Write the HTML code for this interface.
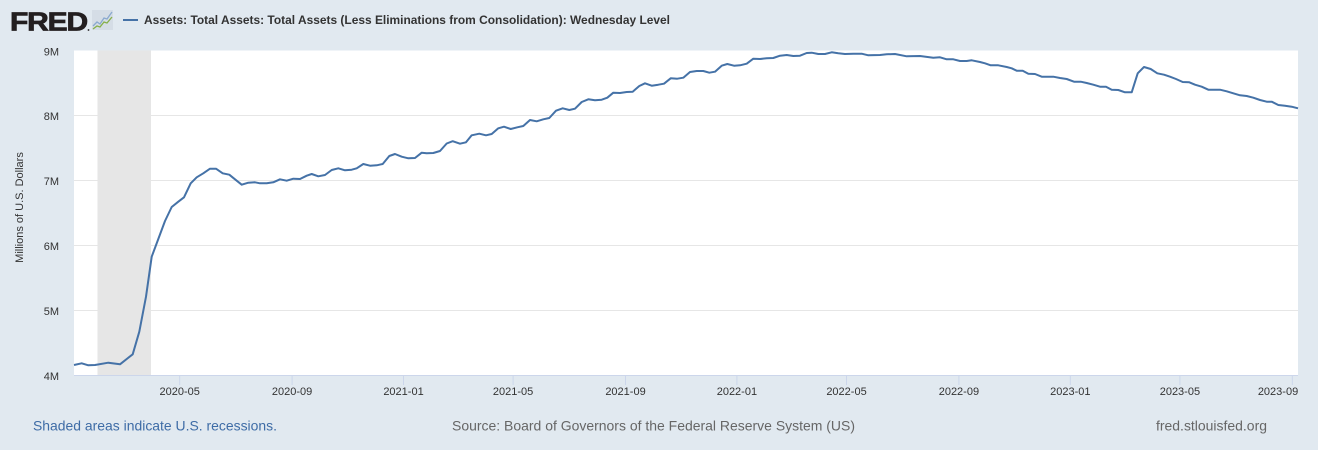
<!DOCTYPE html>
<html>
<head>
<meta charset="utf-8">
<style>
html,body{margin:0;padding:0;background:#e1e9f0;}
svg{display:block;}
text{font-family:"Liberation Sans",Arial,sans-serif;}
</style>
</head>
<body>
<svg width="1318" height="450" viewBox="0 0 1318 450" xmlns="http://www.w3.org/2000/svg">
  <rect x="0" y="0" width="1318" height="450" fill="#e1e9f0"/>
  <!-- FRED logo -->
  <text x="10" y="30.5" font-size="26" font-weight="bold" fill="#231f20" stroke="#231f20" stroke-width="0.8" textLength="77" lengthAdjust="spacingAndGlyphs" style="letter-spacing:-1px">FRED</text>
  <circle cx="88.5" cy="30" r="0.9" fill="#231f20"/>
  <rect x="92" y="10" width="21" height="20" fill="#d5dde6"/>
  <polyline points="93,26 97,22 100,24 104,18 107,19 112,12" fill="none" stroke="#8aa9cf" stroke-width="1.3"/>
  <polyline points="93,29 97,26 100,27 104,22 107,23 112,17" fill="none" stroke="#86b04a" stroke-width="1.3"/>
  <!-- legend -->
  <line x1="123" y1="20" x2="138" y2="20" stroke="#4572a7" stroke-width="2"/>
  <text x="144" y="24" font-size="12" font-weight="bold" fill="#333" textLength="526" lengthAdjust="spacingAndGlyphs">Assets: Total Assets: Total Assets (Less Eliminations from Consolidation): Wednesday Level</text>

  <!-- plot area -->
  <rect x="74" y="50.5" width="1224" height="325" fill="#ffffff"/>
  <!-- recession -->
  <rect x="97.5" y="50.5" width="53.5" height="325" fill="#e6e6e6"/>
  <!-- gridlines -->
  <g stroke="#e6e6e6" stroke-width="1">
    <line x1="74" y1="115.5" x2="1298" y2="115.5"/>
    <line x1="74" y1="180.5" x2="1298" y2="180.5"/>
    <line x1="74" y1="245.5" x2="1298" y2="245.5"/>
    <line x1="74" y1="310.5" x2="1298" y2="310.5"/>
  </g>
  <!-- x axis -->
  <line x1="74" y1="375.5" x2="1298" y2="375.5" stroke="#ccd6eb" stroke-width="1"/>
  <g stroke="#ccd6eb" stroke-width="1">
    <line x1="179.7" y1="375" x2="179.7" y2="385"/>
    <line x1="292.1" y1="375" x2="292.1" y2="385"/>
    <line x1="403.5" y1="375" x2="403.5" y2="385"/>
    <line x1="513.1" y1="375" x2="513.1" y2="385"/>
    <line x1="625.5" y1="375" x2="625.5" y2="385"/>
    <line x1="736.9" y1="375" x2="736.9" y2="385"/>
    <line x1="846.5" y1="375" x2="846.5" y2="385"/>
    <line x1="958.9" y1="375" x2="958.9" y2="385"/>
    <line x1="1070.3" y1="375" x2="1070.3" y2="385"/>
    <line x1="1179.9" y1="375" x2="1179.9" y2="385"/>
    <line x1="1292.3" y1="375" x2="1292.3" y2="385"/>
  </g>
  <g font-size="11" fill="#333" text-anchor="middle">
    <text x="179.7" y="395">2020-05</text>
    <text x="292.1" y="395">2020-09</text>
    <text x="403.5" y="395">2021-01</text>
    <text x="513.1" y="395">2021-05</text>
    <text x="625.5" y="395">2021-09</text>
    <text x="736.9" y="395">2022-01</text>
    <text x="846.5" y="395">2022-05</text>
    <text x="958.9" y="395">2022-09</text>
    <text x="1070.3" y="395">2023-01</text>
    <text x="1179.9" y="395">2023-05</text>
    <text x="1278" y="395">2023-09</text>
  </g>
  <!-- y labels -->
  <g font-size="11" fill="#333" text-anchor="end">
    <text x="59" y="55.5">9M</text>
    <text x="59" y="120">8M</text>
    <text x="59" y="185">7M</text>
    <text x="59" y="250">6M</text>
    <text x="59" y="315">5M</text>
    <text x="59" y="380">4M</text>
  </g>
  <text transform="translate(23,207.5) rotate(-90)" font-size="11" fill="#333" text-anchor="middle">Millions of U.S. Dollars</text>

  <!-- series -->
  <polyline fill="none" stroke="#4572a7" stroke-width="2" stroke-linejoin="round" points="74,365 81.7,363.3 88.3,365.3 95,365 108.3,362.7 120,364.3 132.7,354.3 139.3,331.7 146,296.7 151.7,256.7 158.3,239 165,221 171.7,207 178.3,201.7 184,197.3 190.7,183.3 196.7,177.3 203.3,173.3 210,168.7 216,168.7 222.7,173.3 229.3,174.7 235,179.3 241.7,184.7 248.3,182.7 255,182.3 260,183.3 266.7,183.3 273.3,182.3 280,179.3 286.7,180.7 293.3,178.7 300,179 306.7,175.7 311.7,174 318.3,176.3 325,175 331.7,170 338.3,168.3 345,170.3 351.7,169.7 356.7,168.3 363.3,164 370,165.7 376.7,165.3 382.7,164 389.3,156 395,154 401.7,156.7 408.3,158.3 415,158 421.7,152.7 426.7,153.3 433.3,153 440,151 446.7,143.5 452.7,141.2 460,143.7 466,142.3 471.7,135.3 479.3,133.7 486,135.3 491.7,134 498.3,128.3 504,126.7 510.7,129 517.3,127.3 523.3,126 530,120 536.7,121.3 543.3,119.3 549.3,118 556,110.7 562.7,108.3 569.3,110 575,108.7 581.7,102 588.3,99.3 595,100.3 601.7,99.7 607.3,97.7 613.3,92.7 620,93 626.7,92 632.7,91.7 639.3,86 645,83.3 651.7,85.7 658.3,84.7 664,83.7 670.7,78.3 677.3,78.7 683.3,77.7 690,72 696.7,71 703.3,71 709.3,72.7 715,71.7 721.7,65.7 727.3,64 734,65.7 740,65.3 746.7,63.7 753.3,58.7 760,59 766.7,58.3 773.3,58 780,55.7 786.7,55 793.3,56 800,55.7 806.7,53 811.7,52.7 818.3,54 825,54 831.7,52.3 838.3,53.3 845,54 853.3,53.7 861.7,53.7 868.3,55.3 880,55 886.7,54.3 895,54 906.7,56.3 920,56 933.3,57.7 940,57.3 946.7,59.3 953.3,59.3 960,61 966.7,61 971.7,60.3 980,62 985,63.3 990.7,65.3 998.3,65.3 1006.7,67 1011.7,68.3 1016.7,70.7 1022.7,70.7 1028.3,73.7 1035,74 1041.7,76.7 1053.3,76.7 1060,78 1066.7,79 1074,81.7 1080.7,81.7 1086.7,83 1093.3,84.7 1100,86.7 1106,86.7 1111.7,89.7 1118.3,90 1125,92.3 1131.7,92.3 1137.7,73.3 1144,67 1150.7,69 1157.3,73.3 1164,74.7 1170,76.7 1176,79 1182.7,82 1189.3,82.3 1195,84.7 1201.7,86.7 1208.3,89.7 1213.3,89.7 1220,89.7 1226.7,91.3 1233.3,93.3 1240,95.3 1246.7,96 1253.3,97.7 1260,100 1266.7,101.7 1271.7,101.7 1278.3,105 1285,105.7 1291.7,106.7 1298,108.3"/>

  <!-- footer -->
  <text x="33" y="430.5" font-size="14" fill="#3e6ca6" textLength="244" lengthAdjust="spacingAndGlyphs">Shaded areas indicate U.S. recessions.</text>
  <text x="452" y="430.5" font-size="14" fill="#666" textLength="403" lengthAdjust="spacingAndGlyphs">Source: Board of Governors of the Federal Reserve System (US)</text>
  <text x="1156" y="430.5" font-size="14" fill="#666" textLength="111" lengthAdjust="spacingAndGlyphs">fred.stlouisfed.org</text>
</svg>
</body>
</html>
